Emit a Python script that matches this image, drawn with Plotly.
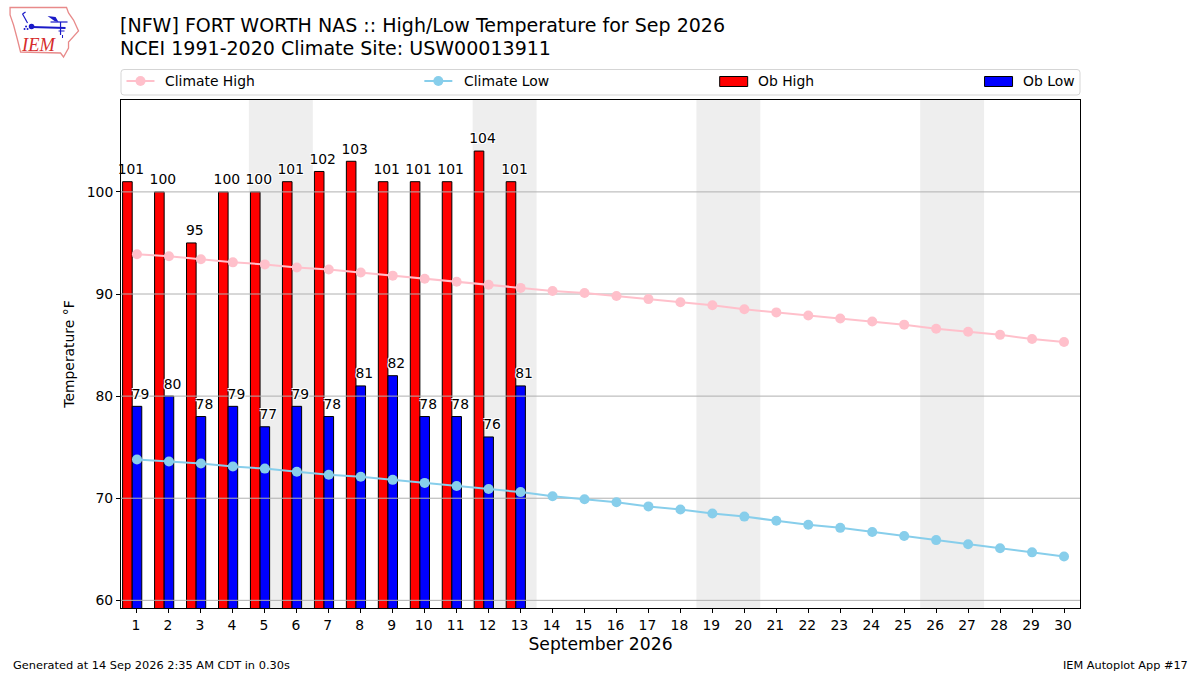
import plotly.graph_objects as go

days = list(range(1, 31))
obs_days = list(range(1, 14))
ob_high = [101, 100, 95, 100, 100, 101, 102, 103, 101, 101, 101, 104, 101]
ob_low = [79, 80, 78, 79, 77, 79, 78, 81, 82, 78, 78, 76, 81]
climate_high = [93.9, 93.7, 93.4, 93.1, 92.9, 92.6, 92.4, 92.1, 91.8, 91.5, 91.2, 90.9, 90.6, 90.3, 90.1,
                89.8, 89.5, 89.2, 88.9, 88.5, 88.2, 87.9, 87.6, 87.3, 87.0, 86.6, 86.3, 86.0, 85.6, 85.3]
climate_low = [73.8, 73.6, 73.4, 73.1, 72.9, 72.6, 72.3, 72.1, 71.8, 71.5, 71.2, 70.9, 70.6, 70.2, 69.9,
               69.6, 69.2, 68.9, 68.5, 68.2, 67.8, 67.4, 67.1, 66.7, 66.3, 65.9, 65.5, 65.1, 64.7, 64.3]
weekends = [(4.5, 6.5), (11.5, 13.5), (18.5, 20.5), (25.5, 27.5)]
y_ticks = [60, 70, 80, 90, 100]

W, H = 1200, 675
L, R, T, B = 120.5, 1080, 100, 608
FONT = "DejaVu Sans"
HALO = "-1px -1px 0 #fff, 1px -1px 0 #fff, -1px 1px 0 #fff, 1px 1px 0 #fff"
LABEL_LIFT = 0.4


def px(x):
    return (x - L) / (R - L)


def py(y):
    return (B - y) / (B - T)


def path(points, close=True):
    s = "M" + " L".join(f"{px(x):.5f},{py(y):.5f}" for x, y in points)
    return s + (" Z" if close else "")


fig = go.Figure()

fig.add_bar(x=[d - 0.3 for d in obs_days], y=ob_high, width=0.3, name="Ob High",
            marker=dict(color="#ff0000", line=dict(color="black", width=1)), showlegend=False)
fig.add_bar(x=obs_days, y=ob_low, width=0.3, name="Ob Low",
            marker=dict(color="#0000ff", line=dict(color="black", width=1)), showlegend=False)

for t in y_ticks:
    fig.add_scatter(x=[0.5, 30.5], y=[t, t], mode="lines", line=dict(color="#b0b0b0", width=1),
                    showlegend=False, hoverinfo="skip")

fig.add_scatter(x=days, y=climate_high, mode="lines+markers", name="Climate High",
                line=dict(color="#ffc0cb", width=2), marker=dict(color="#ffc0cb", size=10), showlegend=False)
fig.add_scatter(x=days, y=climate_low, mode="lines+markers", name="Climate Low",
                line=dict(color="#87ceeb", width=2), marker=dict(color="#87ceeb", size=10), showlegend=False)

label_font = dict(family=FONT, size=13.9, color="black", shadow=HALO)
fig.add_scatter(x=[d - 0.19 for d in obs_days], y=[v + LABEL_LIFT for v in ob_high], mode="text",
                text=[str(v) for v in ob_high], textposition="top center", textfont=label_font,
                showlegend=False, hoverinfo="skip", cliponaxis=False)
fig.add_scatter(x=[d + 0.11 for d in obs_days], y=[v + LABEL_LIFT for v in ob_low], mode="text",
                text=[str(v) for v in ob_low], textposition="top center", textfont=label_font,
                showlegend=False, hoverinfo="skip", cliponaxis=False)

shapes = []
for a, b in weekends:
    shapes.append(dict(type="rect", xref="x", yref="paper", x0=a, x1=b, y0=0, y1=1,
                       fillcolor="#eeeeee", line_width=0, layer="below"))

# legend frame
r = 3
x0, x1, y0, y1 = 120.5, 1080, 69.5, 95
shapes.append(dict(type="path", xref="paper", yref="paper", layer="above",
                   path=(f"M{px(x0+r)},{py(y0)} L{px(x1-r)},{py(y0)} Q{px(x1)},{py(y0)} {px(x1)},{py(y0+r)} "
                         f"L{px(x1)},{py(y1-r)} Q{px(x1)},{py(y1)} {px(x1-r)},{py(y1)} "
                         f"L{px(x0+r)},{py(y1)} Q{px(x0)},{py(y1)} {px(x0)},{py(y1-r)} "
                         f"L{px(x0)},{py(y0+r)} Q{px(x0)},{py(y0)} {px(x0+r)},{py(y0)} Z"),
                   line=dict(color="#d5d5d5", width=1), fillcolor="white"))


def seg(x0, y0, x1, y1, color, width):
    return dict(type="line", xref="paper", yref="paper", x0=px(x0), x1=px(x1), y0=py(y0), y1=py(y1),
                line=dict(color=color, width=width))


def dot(cx, cy, rad, color):
    return dict(type="circle", xref="paper", yref="paper", x0=px(cx - rad), x1=px(cx + rad),
                y0=py(cy + rad), y1=py(cy - rad), fillcolor=color, line_width=0)


def box(x0, y0, x1, y1, color):
    return dict(type="rect", xref="paper", yref="paper", x0=px(x0), x1=px(x1), y0=py(y0), y1=py(y1),
                fillcolor=color, line=dict(color="black", width=1))


shapes += [seg(126, 81, 154, 81, "#ffc0cb", 2), dot(140, 81, 5, "#ffc0cb"),
           seg(424, 81, 452, 81, "#87ceeb", 2), dot(438, 81, 5, "#87ceeb"),
           box(719.5, 76.5, 747.5, 86.5, "#ff0000"), box(984.5, 76.5, 1012.5, 86.5, "#0000ff")]

# IEM logo
outline = [(9.5, 7.5), (66, 7.5), (68, 13), (73, 20), (78, 31), (68, 42), (68, 48), (63, 57),
           (60, 53), (20, 52), (17, 40), (13, 25), (9.5, 15)]
shapes.append(dict(type="path", xref="paper", yref="paper", path=path(outline),
                   line=dict(color="#e88a8a", width=1.3), fillcolor="white"))
logo_blue = "#1a1ac8"
shapes += [seg(31, 27, 65, 28, logo_blue, 1.8), dot(31, 26.5, 2.8, logo_blue),
           seg(50, 22, 67, 22, logo_blue, 1.2), seg(60, 22, 60, 35, logo_blue, 1.2),
           seg(22, 14, 27, 23, logo_blue, 1.2), seg(22, 14, 25, 12, logo_blue, 1.2),
           seg(58, 31, 64, 31, logo_blue, 1.0), seg(62, 35, 62, 38, logo_blue, 1.0),
           dot(24, 29, 1, logo_blue), dot(27, 29, 1, logo_blue), dot(25.5, 26.5, 1, logo_blue)]
shapes.append(dict(type="path", xref="paper", yref="paper", path=path([(47, 16), (55, 17), (58, 22), (54, 21)]),
                   fillcolor=logo_blue, line_width=0))

annotations = []


def note(x, y, text, size=13.9, anchor="left", color="black", family=FONT):
    annotations.append(dict(xref="paper", yref="paper", x=px(x), y=py(y), text=text, showarrow=False,
                            xanchor=anchor, yanchor="middle", align=anchor, xshift=0, yshift=0, borderpad=0,
                            font=dict(family=family, size=size, color=color)))


note(118.5, 25, "[NFW] FORT WORTH NAS :: High/Low Temperature for Sep 2026", 19.05)
note(118.5, 48, "NCEI 1991-2020 Climate Site: USW00013911", 19.05)
note(163.5, 81, "Climate High")
note(463, 81, "Climate Low")
note(757, 81, "Ob High")
note(1022, 81, "Ob Low")
note(11, 665, "Generated at 14 Sep 2026 2:35 AM CDT in 0.30s", 11.35)
note(1189.5, 665, "IEM Autoplot App #17", 11.3, anchor="right")
note(19, 45, "<i>IEM</i>", 18.5, color="#d62c2c", family="Liberation Serif")

axis_common = dict(showline=True, linecolor="black", linewidth=1, mirror=True, ticks="outside",
                   ticklen=4, tickwidth=1, tickcolor="black", showgrid=False, zeroline=False,
                   tickfont=dict(family=FONT, size=13.9, color="black"))

fig.update_layout(
    width=W, height=H, autosize=False,
    margin=dict(l=L, r=W - R, t=T, b=H - B, pad=0),
    paper_bgcolor="white", plot_bgcolor="rgba(0,0,0,0)",
    barmode="overlay", showlegend=False, shapes=shapes, annotations=annotations,
    xaxis=dict(range=[0.5, 30.5], tickmode="array", tickvals=days, ticktext=[str(d) for d in days],
               ticklabelshift=-1,
               title=dict(text="September 2026", font=dict(family=FONT, size=17.2, color="black"), standoff=6),
               **axis_common),
    yaxis=dict(range=[59.25, 109], tickmode="array", tickvals=y_ticks, ticktext=[str(t) for t in y_ticks],
               title=dict(text="Temperature °F", font=dict(family=FONT, size=13.9, color="black"), standoff=8),
               **axis_common),
)

fig.write_html("out.html", post_script="document.body.style.margin='0';window.dispatchEvent(new Event('resize'));",
               config=dict(displayModeBar=False))
